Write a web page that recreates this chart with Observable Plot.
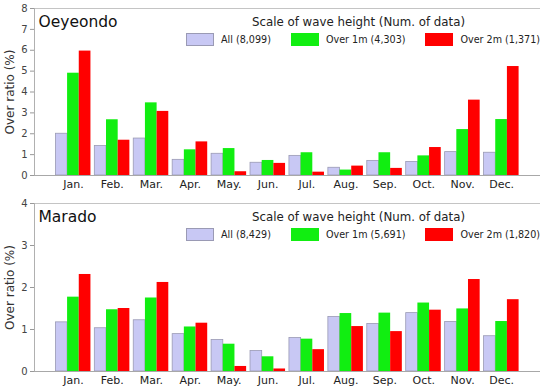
<!DOCTYPE html>
<html><head><meta charset="utf-8">
<script src="https://cdn.jsdelivr.net/npm/d3@7"></script>
<script src="https://cdn.jsdelivr.net/npm/@observablehq/plot@0.6"></script>
<style>
body{margin:0;background:#fff;font-family:"DejaVu Sans",Verdana,sans-serif;}
.panel{position:relative;width:546px;}
.ltitle{position:absolute;left:252px;font-size:11.8px;color:#222;white-space:nowrap;line-height:14px;}
.lrow{position:absolute;left:186px;display:flex;align-items:center;font-size:9.6px;color:#222;white-space:nowrap;}
.sw{width:28px;height:13px;box-sizing:border-box;margin-right:7px;}
.item{display:flex;align-items:center;margin-right:20px;}
</style></head>
<body><div id="chart"></div>
<script>
const months = ["Jan.","Feb.","Mar.","Apr.","May.","Jun.","Jul.","Aug.","Sep.","Oct.","Nov.","Dec."];
const seriesNames = ["All","Over 1m","Over 2m"];
const seriesColors = ["#c8c8f4","#11ee11","#ff0000"];
const seriesStrokes = ["#9a9ab4","none","none"];

const oeyeondoCounts = ["8,099","4,303","1,371"];
const oeyeondoAll  = [2.00,1.41,1.77,0.75,1.04,0.61,0.94,0.37,0.70,0.65,1.12,1.09];
const oeyeondo1m   = [4.90,2.67,3.48,1.23,1.29,0.72,1.09,0.26,1.09,0.94,2.20,2.68];
const oeyeondo2m   = [5.96,1.69,3.07,1.61,0.18,0.58,0.16,0.45,0.34,1.34,3.61,5.22];

const maradoCounts = ["8,429","5,691","1,820"];
const maradoAll = [1.17,1.03,1.22,0.89,0.75,0.49,0.80,1.30,1.13,1.39,1.18,0.84];
const marado1m  = [1.77,1.47,1.75,1.06,0.65,0.35,0.77,1.38,1.39,1.63,1.49,1.19];
const marado2m  = [2.31,1.50,2.12,1.15,0.12,0.06,0.52,1.07,0.95,1.46,2.19,1.71];

const panels = [
  {name:"Oeyeondo", counts:oeyeondoCounts, series:[oeyeondoAll,oeyeondo1m,oeyeondo2m], ymax:8},
  {name:"Marado", counts:maradoCounts, series:[maradoAll,marado1m,marado2m], ymax:4}
];

const chart = document.getElementById("chart");
panels.forEach((p, pi) => {
  const h = pi === 0 ? 195 : 196;
  const barMarks = p.series.map((vals, s) =>
    Plot.rectY(vals.map((v, m) => ({m, v})), {
      x1: d => d.m - 0.45 + s * 0.3,
      x2: d => d.m - 0.45 + (s + 1) * 0.3,
      y: "v",
      fill: seriesColors[s],
      stroke: seriesStrokes[s],
      strokeWidth: 0.8
    })
  );
  const plot = Plot.plot({
    width: 546, height: h,
    marginLeft: 34, marginRight: 6, marginTop: 8, marginBottom: 20,
    style: {fontFamily: "DejaVu Sans, Verdana, sans-serif", background: "#fff"},
    x: {domain: [-1, 12], axis: null},
    y: {domain: [0, p.ymax], axis: null},
    marks: [
      ...barMarks,
      Plot.ruleY([p.ymax], {stroke: "#c4c4c4"}),
      Plot.ruleX([-1], {stroke: "#b0b0b0"}),
      Plot.ruleY([0], {stroke: "#a8a8a8"}),
      Plot.axisY(d3.range(0, p.ymax + 1), {tickSize: 4, tickPadding: 3, fontSize: 10, color: "#444", stroke: "#999", label: null}),
      Plot.axisX(d3.range(12), {tickFormat: i => months[i], tickSize: 0, tickPadding: 5, fontSize: 11, color: "#222", label: null}),
      Plot.text(["Over ratio (%)"], {frameAnchor: "left", textAnchor: "middle", rotate: -90, dx: -24, fontSize: 12, fill: "#333"}),
      Plot.text([p.name], {frameAnchor: "top-left", dx: 4, dy: 7, fontSize: 15.5, fill: "#111", lineAnchor: "top"})
    ]
  });
  const div = document.createElement("div");
  div.className = "panel";
  div.style.height = h + "px";
  div.appendChild(plot);
  const t = document.createElement("div");
  t.className = "ltitle";
  t.style.top = "15px";
  t.textContent = "Scale of wave height (Num. of data)";
  div.appendChild(t);
  const row = document.createElement("div");
  row.className = "lrow";
  row.style.top = "33px";
  seriesNames.forEach((n, s) => {
    const it = document.createElement("div");
    it.className = "item";
    const sw = document.createElement("div");
    sw.className = "sw";
    sw.style.background = seriesColors[s];
    if (seriesStrokes[s] !== "none") sw.style.border = "1px solid " + seriesStrokes[s];
    const tx = document.createElement("span");
    tx.textContent = n + " (" + p.counts[s] + ")";
    it.appendChild(sw); it.appendChild(tx);
    row.appendChild(it);
  });
  div.appendChild(row);
  chart.appendChild(div);
});
</script></body></html>
